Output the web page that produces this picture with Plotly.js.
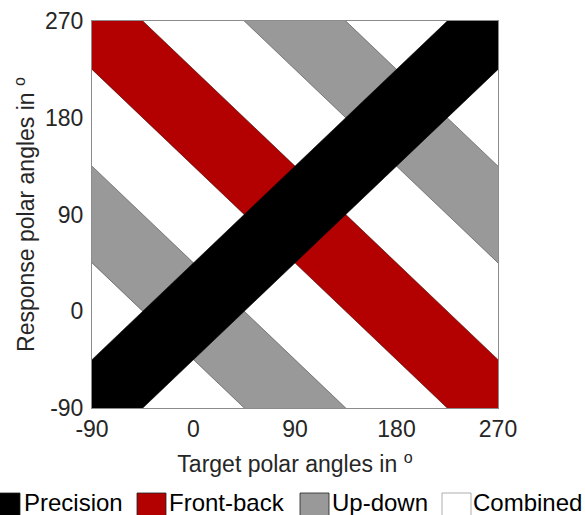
<!DOCTYPE html>
<html>
<head>
<meta charset="utf-8">
<script src="https://cdn.plot.ly/plotly-3.0.1.min.js"></script>
<style>html,body{margin:0;padding:0;background:#fff;}#chart{width:585px;height:515px;}</style>
</head>
<body>
<div id="chart"></div>
<script>
// ---- data ----
const categories = ['Precision', 'Front-back', 'Up-down', 'Combined'];
const categoryColors = ['#000000', '#b30000', '#999999', '#ffffff'];
const axisTicks = [-90, 0, 90, 180, 270];
const axisRange = [-90, 270];
const precisionOffsets = [0];      // band centre: response - target
const frontBackSums = [180];       // band centre: response + target
const upDownSums = [0, 360];       // band centre: response + target
const bandHalfWidth = 45;

// ---- build band polygons (clipped by the axes) ----
const XA = -500, XB = 700;
function diagBands(offsets) {
  const xs = [], ys = [];
  offsets.forEach((c, i) => {
    if (i) { xs.push(null); ys.push(null); }
    xs.push(XA, XB, XB, XA, XA);
    ys.push(XA + c - bandHalfWidth, XB + c - bandHalfWidth, XB + c + bandHalfWidth, XA + c + bandHalfWidth, XA + c - bandHalfWidth);
  });
  return {x: xs, y: ys};
}
function antiBands(sums) {
  const xs = [], ys = [];
  sums.forEach((c, i) => {
    if (i) { xs.push(null); ys.push(null); }
    xs.push(XA, XB, XB, XA, XA);
    ys.push(c - XA - bandHalfWidth, c - XB - bandHalfWidth, c - XB + bandHalfWidth, c - XA + bandHalfWidth, c - XA - bandHalfWidth);
  });
  return {x: xs, y: ys};
}
function bandTrace(poly, color, edge, name) {
  return {type: 'scatter', mode: 'lines', x: poly.x, y: poly.y, fill: 'toself', fillcolor: color,
    line: {color: edge, width: 0.6}, connectgaps: false, hoverinfo: 'skip', showlegend: false, name: name};
}
const traces = [
  bandTrace(antiBands(frontBackSums), categoryColors[1], '#3a0000', categories[1]),
  bandTrace(antiBands(upDownSums), categoryColors[2], '#444444', categories[2]),
  bandTrace(diagBands(precisionOffsets), categoryColors[0], '#000000', categories[0])
];

// ---- layout ----
const W = 585, H = 515, M = {l: 92, r: 87, t: 21, b: 107};
const pw = W - M.l - M.r, ph = H - M.t - M.b;
const px = v => (v - M.l) / pw;
const py = v => (H - M.b - v) / ph;
const fontFam = 'Liberation Sans, Arial, Helvetica, sans-serif';
const txtCol = '#262626';

const legendBoxX = [-9, 137, 300, 442];
const legendTextX = [22, 167, 330, 471];
const shapes = [], annotations = [];
categories.forEach((c, i) => {
  shapes.push({type: 'rect', xref: 'paper', yref: 'paper', x0: px(legendBoxX[i]), x1: px(legendBoxX[i] + 29),
    y0: py(493), y1: py(520), fillcolor: categoryColors[i], line: {color: i === 3 ? '#999' : '#222', width: 0.8}, layer: 'above'});
  annotations.push({xref: 'paper', yref: 'paper', x: px(legendTextX[i]), y: py(503), xanchor: 'left', yanchor: 'middle',
    text: c, showarrow: false, font: {family: fontFam, size: 24, color: '#000'}});
});

const axisCommon = {
  range: axisRange, tickvals: axisTicks, ticktext: axisTicks.map(String), showgrid: false, zeroline: false,
  showline: true, mirror: true, linecolor: '#8c8c8c', linewidth: 1, ticks: '',
  tickfont: {family: fontFam, size: 23, color: txtCol}, fixedrange: true
};
const layout = {
  width: W, height: H, margin: M, paper_bgcolor: '#fff', plot_bgcolor: '#fff', showlegend: false,
  xaxis: Object.assign({}, axisCommon, {title: {text: 'Target polar angles in <sup>o</sup>', font: {family: fontFam, size: 23, color: txtCol}, standoff: 15}}),
  yaxis: Object.assign({}, axisCommon, {ticklabelstandoff: 3, title: {text: 'Response polar angles in <sup>o</sup>', font: {family: fontFam, size: 23, color: txtCol}, standoff: 3}}),
  shapes: shapes, annotations: annotations
};
Plotly.newPlot('chart', traces, layout, {displayModeBar: false, staticPlot: true});
</script>
</body>
</html>
